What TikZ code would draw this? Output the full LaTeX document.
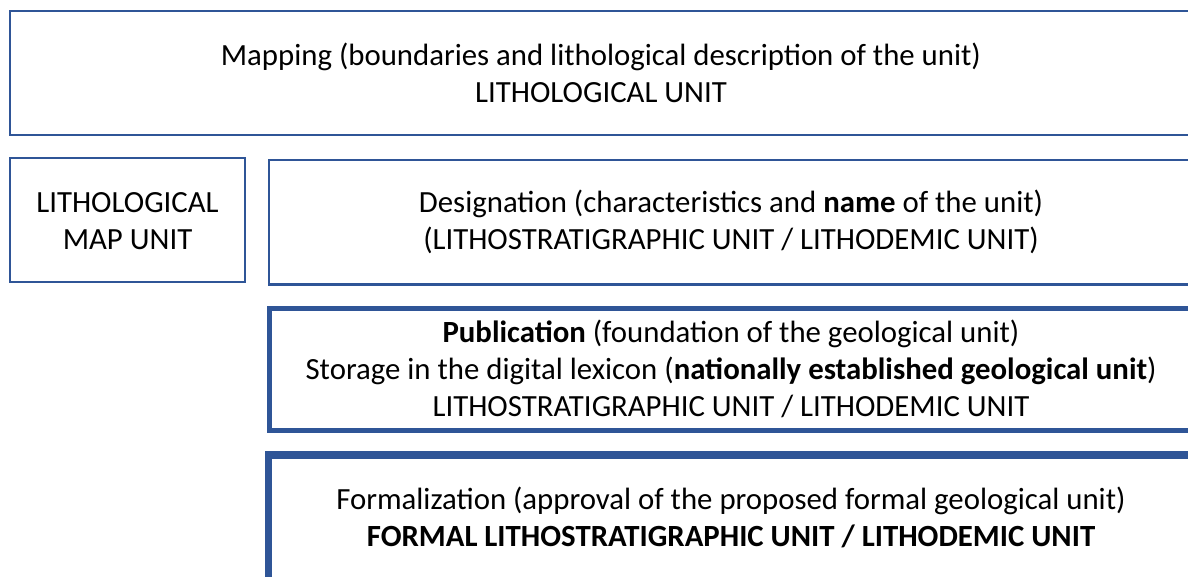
\documentclass[tikz,border=0pt]{standalone}
\usepackage{fontspec}
\setmainfont{Carlito}
\definecolor{boxblue}{HTML}{2F5597}
\begin{document}
\begin{tikzpicture}[x=1pt,y=-1pt,
  txt/.style={align=center,font=\fontsize{30.8}{37}\selectfont,inner sep=0pt},
  frame/.style={draw=boxblue,fill=white}]
\useasboundingbox (0,0) rectangle (1188,576);
\begin{scope}
\clip (0,0) rectangle (1188,576);
% stage boxes, borders get heavier towards the formal unit
\draw[frame,line width=2pt] (10,11) rectangle (1192,135);
\draw[frame,line width=1.6pt] (10,158) rectangle (245,282);
\draw[frame,line width=2.6pt] (269,160) rectangle (1194,284.5);
\draw[frame,line width=5pt] (269.5,308) rectangle (1194,430);
\draw[frame,line width=7.5pt] (268.5,455) rectangle (1194,585);
\end{scope}
\node[txt] (map) at (601,73) {Mapping (boundaries and lithological description of the unit)\\LITHOLOGICAL UNIT};
\node[txt] (lmu) at (127.5,221) {LITHOLOGICAL\\MAP UNIT};
\node[txt] (des) at (731,222) {Designation (characteristics and \textbf{name} of the unit)\\(LITHOSTRATIGRAPHIC UNIT / LITHODEMIC UNIT)};
\node[txt] (pub) at (731,369) {\textbf{Publication} (foundation of the geological unit)\\Storage in the digital lexicon (\textbf{nationally established geological unit})\\LITHOSTRATIGRAPHIC UNIT / LITHODEMIC UNIT};
\node[txt] (frm) at (731,517) {Formalization (approval of the proposed formal geological unit)\\\textbf{FORMAL LITHOSTRATIGRAPHIC UNIT / LITHODEMIC UNIT}};
\end{tikzpicture}
\end{document}
